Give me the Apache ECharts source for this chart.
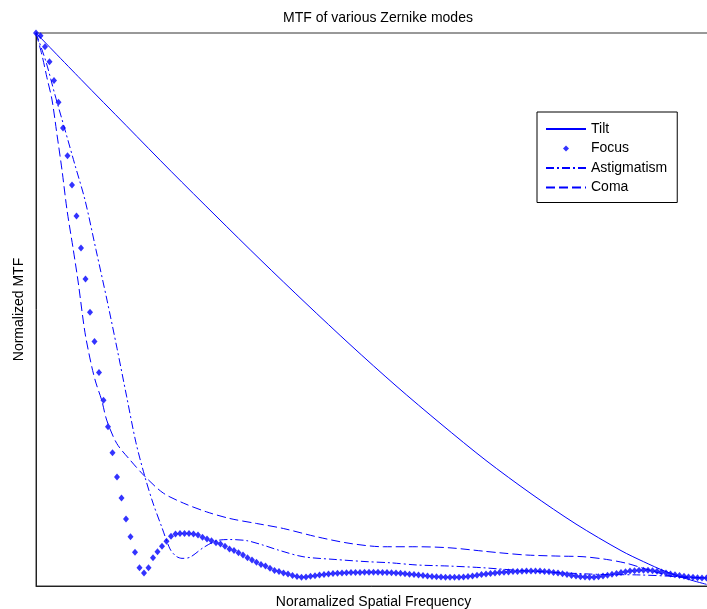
<!DOCTYPE html>
<html>
<head>
<meta charset="utf-8">
<script src="https://cdn.jsdelivr.net/npm/echarts@6/dist/echarts.min.js"></script>
<style>
html,body{margin:0;padding:0;background:#fff;}
#main{width:707px;height:609px;}
</style>
</head>
<body>
<div id="main"></div>
<script>
// Focus: sampled MTF values, one per sample index 0..149
const focusY = [
1.000,0.995,0.975,0.948,0.914,0.875,0.828,0.778,0.725,0.669,
0.611,0.555,0.495,0.442,0.386,0.336,0.288,0.241,0.197,0.159,
0.121,0.089,0.061,0.033,0.0235,0.033,0.051,0.062,0.072,0.081,
0.090,0.094,0.095,0.095,0.095,0.094,0.092,0.088,0.085,0.082,
0.078,0.076,0.072,0.067,0.064,0.060,0.056,0.051,0.047,0.043,
0.039,0.036,0.032,0.028,0.026,0.0235,0.0217,0.019,0.0172,0.0157,
0.0163,0.0175,0.0186,0.0199,0.0208,0.0217,0.0226,0.0231,0.0235,0.0239,
0.0242,0.0244,0.0246,0.0248,0.0248,0.0248,0.0248,0.0246,0.0244,0.0241,
0.0235,0.0230,0.0222,0.0213,0.0206,0.0199,0.0190,0.0181,0.0174,0.0166,
0.0161,0.0157,0.0156,0.0156,0.0157,0.0163,0.0172,0.0181,0.0193,0.0206,
0.0217,0.0226,0.0235,0.0242,0.0250,0.0255,0.0260,0.0264,0.0268,0.0269,
0.0271,0.0271,0.0269,0.0264,0.0257,0.0246,0.0235,0.0221,0.0206,0.0192,
0.0179,0.0168,0.0161,0.0157,0.0159,0.0166,0.0179,0.0195,0.0212,0.0228,
0.0244,0.0259,0.0269,0.0278,0.0284,0.0286,0.0284,0.0277,0.0266,0.0251,
0.0235,0.0219,0.0203,0.0188,0.0175,0.0165,0.0156,0.0150,0.0146,0.0145
];

// Tilt
const tiltX = [0,10,20,30,40,50,60,70,80,90,100,110,120,130,135,140,145,149];
const tiltY = [1.000,0.916,0.833,0.750,0.669,0.589,0.511,0.435,0.362,0.293,0.227,0.167,0.112,0.064,0.044,0.026,0.012,0.003];

// Astigmatism
const astigX = [0,2.22,4.22,6.44,8.67,10.89,13.33,15.78,18,20.16,22.22,24.22,26,27.93,29.78,31.11,32.44,34.22,37.11,40.16,43.11,46.82,50.44,53.84,59.33,66.44,73.56,78.67,84.67,92,99.33,107.56,116.44,125.33,134.22,140.22,149.11];
const astigY = [1.000,0.948,0.888,0.825,0.761,0.698,0.608,0.517,0.430,0.342,0.259,0.197,0.150,0.107,0.067,0.054,0.050,0.052,0.069,0.082,0.084,0.082,0.074,0.065,0.053,0.048,0.044,0.042,0.038,0.036,0.033,0.028,0.024,0.021,0.020,0.018,0.0145];

// Coma
const comaX = [0,1.33,2.44,3.56,4.67,5.78,6.89,8.29,9.4,10.89,12.38,13.33,14.6,15.71,17.93,20.89,24.22,28.29,32.73,37.93,43.11,49.04,54.96,62.38,69.78,77.18,84.6,92,99.4,103.11,109.04,116.44,121.56,126.82,131.27,134.96,138.67,141.62,145.33,149.11];
const comaY = [1.000,0.960,0.919,0.879,0.816,0.752,0.680,0.608,0.548,0.458,0.397,0.367,0.336,0.300,0.258,0.228,0.198,0.168,0.150,0.134,0.122,0.113,0.104,0.089,0.077,0.071,0.071,0.069,0.063,0.060,0.056,0.054,0.053,0.048,0.041,0.032,0.023,0.017,0.015,0.0145];

const names = ['Tilt','Focus','Astigmatism','Coma'];
const titleText = 'MTF of various Zernike modes';
const xName = 'Noramalized Spatial Frequency';
const yName = 'Normalized MTF';

const pair = (xs, ys) => xs.map((x, i) => [x, ys[i]]);
const FONT = 'Liberation Sans, Arial, sans-serif';
const BLUE = '#0000ff';
const GRID_W = 675;

const chart = echarts.init(document.getElementById('main'), null, {renderer: 'canvas'});
chart.setOption({
  animation: false,
  backgroundColor: '#fff',
  title: {
    text: titleText,
    left: 373, top: 6, textAlign: 'center',
    textStyle: {fontFamily: FONT, fontSize: 14, fontWeight: 'normal', color: '#000'}
  },
  legend: {
    orient: 'vertical',
    left: 537, top: 112,
    padding: [10, 10, 8, 8],
    itemWidth: 40, itemHeight: 14, itemGap: 5.5,
    backgroundColor: '#fff',
    borderColor: '#000', borderWidth: 1,
    selectedMode: false,
    textStyle: {fontFamily: FONT, fontSize: 14, color: '#000'},
    data: [
      {name: 'Tilt', itemStyle: {opacity: 0}},
      {name: 'Focus', icon: 'path://M0,0M14,14M7,4L10,7L7,10L4,7Z'},
      {name: 'Astigmatism', itemStyle: {opacity: 0}},
      {name: 'Coma', itemStyle: {opacity: 0}}
    ]
  },
  grid: {
    left: 36, top: 33, width: GRID_W, height: 553,
    outerBoundsMode: 'none', containLabel: false,
    show: true, borderColor: '#333', borderWidth: 1, backgroundColor: '#fff'
  },
  xAxis: {
    type: 'value', min: 0, max: GRID_W / 4.5,
    name: xName, nameLocation: 'middle', nameGap: 9,
    nameTextStyle: {fontFamily: FONT, fontSize: 14, color: '#000'},
    axisLine: {show: true, lineStyle: {color: '#222'}},
    axisTick: {show: false}, axisLabel: {show: false}, splitLine: {show: false}
  },
  yAxis: {
    type: 'value', min: 0, max: 1,
    name: yName, nameLocation: 'middle', nameGap: 10, nameRotate: 90,
    nameTextStyle: {fontFamily: FONT, fontSize: 14, color: '#000'},
    axisLine: {show: true, lineStyle: {color: '#222'}},
    axisTick: {show: false}, axisLabel: {show: false}, splitLine: {show: false}
  },
  series: [
    {
      name: 'Tilt', type: 'line', data: pair(tiltX, tiltY),
      symbol: 'none', smooth: 0.3, color: BLUE,
      lineStyle: {color: BLUE, width: 1, type: 'solid'}
    },
    {
      name: 'Focus', type: 'scatter', data: focusY.map((v, i) => [i, v]),
      symbol: 'diamond', symbolSize: [6, 7], clip: false,
      itemStyle: {color: BLUE}, color: BLUE
    },
    {
      name: 'Astigmatism', type: 'line', data: pair(astigX, astigY),
      symbol: 'none', smooth: 0.3, color: BLUE,
      lineStyle: {color: BLUE, width: 1, type: [8, 3, 2, 3]}
    },
    {
      name: 'Coma', type: 'line', data: pair(comaX, comaY),
      symbol: 'none', smooth: 0.3, color: BLUE,
      lineStyle: {color: BLUE, width: 1, type: [9, 4]}
    }
  ]
});
</script>
</body>
</html>
